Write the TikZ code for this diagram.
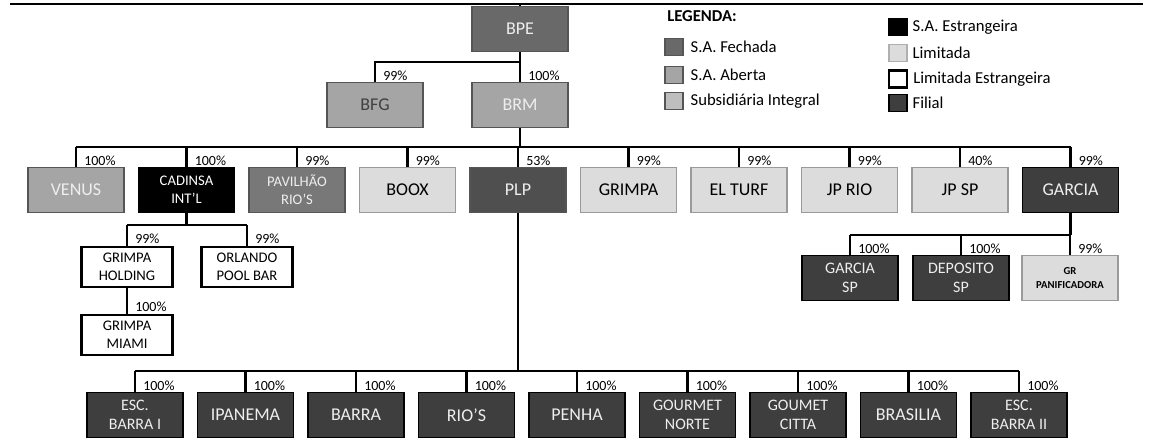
\documentclass[tikz,border=0pt]{standalone}
\usepackage{fontspec}
\setmainfont{Carlito}
\usetikzlibrary{positioning}
\definecolor{fechada}{RGB}{105,105,105}
\definecolor{aberta}{RGB}{165,165,165}
\definecolor{subsid}{RGB}{190,190,190}
\definecolor{limitada}{RGB}{220,220,220}
\definecolor{filial}{RGB}{62,62,62}
\definecolor{boxedge}{RGB}{85,85,85}
\definecolor{lighttext}{RGB}{238,238,238}

\begin{document}
\begin{tikzpicture}[x=0.75pt, y=-0.75pt,
  co/.style={draw=boxedge, line width=0.9pt, minimum width=72pt, minimum height=34pt,
    inner sep=1pt, align=center, font=\fontsize{13.5}{15}\selectfont},
  two/.style={font=\fontsize{11}{13.5}\selectfont},
  twob/.style={font=\fontsize{12}{14.25}\selectfont},
  fechada/.style={co, fill=fechada, text=lighttext},
  aberta/.style={co, fill=aberta, text=lighttext},
  estrangeira/.style={co, fill=black, draw=black, text=white},
  limitada/.style={co, fill=limitada, draw=limitada!70!black, text=black},
  limest/.style={co, fill=white, draw=black, line width=2pt, minimum width=68pt,
    minimum height=30pt, text=black},
  filial/.style={co, fill=filial, draw=black, text=lighttext},
  link/.style={line width=2pt},
  pct/.style={font=\fontsize{10.5}{12}\selectfont, inner sep=1pt, anchor=south west, xshift=5pt},
  legbox/.style={draw=boxedge, line width=1pt, minimum width=13.5pt, minimum height=12.5pt, inner sep=0pt},
  legtext/.style={inner sep=0pt, font=\fontsize{12.5}{14}\selectfont},
]
\useasboundingbox (0,0) rectangle (1151,443);
% Page rule
\draw[line width=1.5pt] (10,4) -- (1143,4);
\coordinate (rule) at (520,4);
% Top
\node[fechada] (bpe) at (520,29) {BPE};
\node[aberta, text=black!75] (bfg) at (375,105) {BFG};
\node[aberta] (brm) at (520,105) {BRM};
% Second row
\node[aberta] (venus) at (76,190) {VENUS};
\node[estrangeira, two] (cadinsa) at (186.5,190) {CADINSA\\INT'L};
\node[fechada, two, fill=fechada!90!white] (pavilhao) at (297,190) {PAVILHÃO\\RIO'S};
\node[limitada] (boox) at (407.5,190) {BOOX};
\node[fechada, fill=fechada!75!black] (plp) at (518,190) {PLP};
\node[limitada] (grimpa) at (628.5,190) {GRIMPA};
\node[limitada] (elturf) at (739,190) {EL TURF};
\node[limitada] (jprio) at (849.5,190) {JP RIO};
\node[limitada] (jpsp) at (960,190) {JP SP};
\node[filial] (garcia) at (1070.5,190) {GARCIA};
% Subsidiaries abroad
\node[limest, two] (gholding) at (127,267) {GRIMPA\\HOLDING};
\node[limest, two] (orlando) at (247,267) {ORLANDO\\POOL BAR};
\node[limest, two] (gmiami) at (127,335) {GRIMPA\\MIAMI};
% Garcia
\node[filial, twob] (garciasp) at (850,278) {GARCIA\\SP};
\node[filial, twob] (deposito) at (961,278) {DEPOSITO\\SP};
\node[limitada, font=\fontsize{8}{10.5}\bfseries] (grpan) at (1070,278) {GR\\PANIFICADORA};
% Branches
\node[filial, twob] (esc1) at (135,415) {ESC.\\BARRA I};
\node[filial] (ipanema) at (245.5,415) {IPANEMA};
\node[filial] (barra) at (356,415) {BARRA};
\node[filial] (rios) at (466.5,415) {RIO'S};
\node[filial] (penha) at (577,415) {PENHA};
\node[filial, twob] (gnorte) at (687.5,415) {GOURMET\\NORTE};
\node[filial, twob] (gcitta) at (798,415) {GOUMET\\CITTA};
\node[filial] (brasilia) at (908.5,415) {BRASILIA};
\node[filial, twob] (esc2) at (1019,415) {ESC.\\BARRA II};
% Buses
\coordinate (busA) at (520,62);
\coordinate (busB) at (520,147);
\coordinate (busC) at (188,225);
\coordinate (busD) at (1070,235);
\coordinate (busE) at (519,371);
% Links
\draw[link] (bpe.north) -- (bpe.north|-rule);
\draw[link] (bpe) -- (brm);
\node[pct] (pbrm) at (brm.north) {100\%};
\draw[link] (bpe|-busA) -| (bfg);
\node[pct] (pbfg) at (bfg.north) {99\%};
\draw[link] (brm) -- (busB);
\draw[link] (venus|-busB) -- (garcia|-busB);
\foreach \n/\p in {venus/100,cadinsa/100,pavilhao/99,boox/99,plp/53,grimpa/99,
  elturf/99,jprio/99,jpsp/40,garcia/99}{
  \draw[link] (\n|-busB) -- (\n);
  \node[pct] (p\n) at (\n.north) {\p\%};
}
\draw[link] (cadinsa) -- (cadinsa|-busC);
\draw[link] (gholding|-busC) -- (orlando|-busC);
\draw[link] (gholding|-busC) -- (gholding);
\node[pct] (pgholding) at (gholding.north) {99\%};
\draw[link] (orlando|-busC) -- (orlando);
\node[pct] (porlando) at (orlando.north) {99\%};
\draw[link] (gholding) -- (gmiami);
\node[pct] (pgmiami) at (gmiami.north) {100\%};
\draw[link] (garcia) -- (garcia|-busD);
\draw[link] (garciasp|-busD) -- (grpan|-busD);
\foreach \n/\p in {garciasp/100,deposito/100,grpan/99}{
  \draw[link] (\n|-busD) -- (\n);
  \node[pct] (p\n) at (\n.north) {\p\%};
}
\draw[link] (plp) -- (plp|-busE);
\draw[link] (esc1|-busE) -- (esc2|-busE);
\foreach \n in {esc1,ipanema,barra,rios,penha,gnorte,gcitta,brasilia,esc2}{
  \draw[link] (\n|-busE) -- (\n);
  \node[pct] (p\n) at (\n.north) {100\%};
}
% Legend
\node[anchor=west, inner sep=0pt, font=\fontsize{12.5}{14}\bfseries] (leg) at (667,16) {LEGENDA:};
\node[legbox, fill=fechada] (lfechada) at (674,47) {};
\node[legtext, right=5pt of lfechada] (tfechada) {S.A. Fechada};
\node[legbox, fill=aberta] (laberta) at (674,75) {};
\node[legtext, right=5pt of laberta] (taberta) {S.A. Aberta};
\node[legbox, fill=subsid] (lsubsid) at (674,101) {};
\node[legtext, right=5pt of lsubsid] (tsubsid) {Subsidiária Integral};
\node[legbox, fill=black, draw=black] (lestr) at (898,27) {};
\node[legtext, right=3.5pt of lestr] (testr) {S.A. Estrangeira};
\node[legbox, fill=limitada, draw=limitada!80!black] (llim) at (898,53) {};
\node[legtext, right=3.5pt of llim] (tlim) {Limitada};
\node[legbox, fill=white, draw=black, line width=2pt] (llimest) at (898,79) {};
\node[legtext, right=3.5pt of llimest] (tlimest) {Limitada Estrangeira};
\node[legbox, fill=filial, draw=black] (lfilial) at (898,103) {};
\node[legtext, right=3.5pt of lfilial] (tfilial) {Filial};
\end{tikzpicture}
\end{document}
